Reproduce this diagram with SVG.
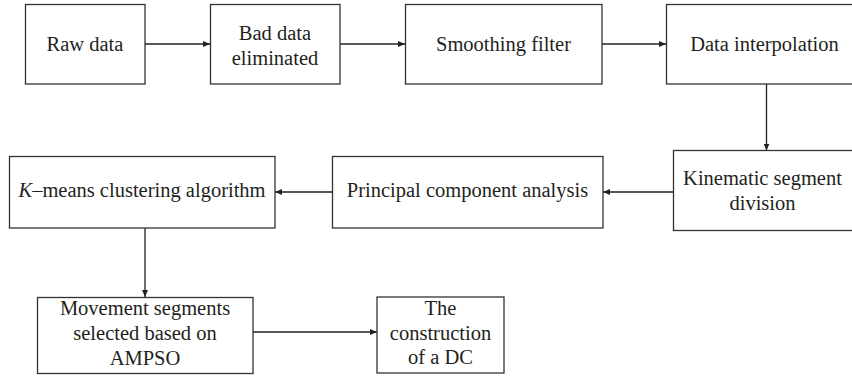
<svg xmlns="http://www.w3.org/2000/svg" width="852" height="379" viewBox="0 0 852 379">
<defs>
<marker id="ah" markerWidth="7" markerHeight="6" refX="7" refY="3" orient="auto" markerUnits="userSpaceOnUse">
<path d="M0,0 L7,3 L0,6 Z" fill="#231f20"/>
</marker>
</defs>
<style>
rect{fill:#fff;stroke:#333;stroke-width:1.3}
text{font-size:20.5px;fill:#231f20;text-anchor:middle}
.c{stroke:#231f20;stroke-width:1.3;fill:none;marker-end:url(#ah)}
</style>
<rect x="0" y="0" width="852" height="379" style="stroke:none;fill:#fff"/>
<g id="connectors">
<line class="c" x1="145" y1="44" x2="210" y2="44"/>
<line class="c" x1="340" y1="44" x2="405" y2="44"/>
<line class="c" x1="602" y1="44" x2="666" y2="44"/>
<line class="c" x1="766.5" y1="84" x2="766.5" y2="150.5"/>
<line class="c" x1="673" y1="192" x2="603" y2="192"/>
<line class="c" x1="332" y1="192" x2="275" y2="192"/>
<line class="c" x1="145" y1="228" x2="145" y2="297"/>
<line class="c" x1="253" y1="332" x2="377" y2="332"/>
</g>
<g font-family="Liberation Serif, serif">
<g id="raw"><rect x="25.5" y="4.5" width="119.5" height="79.5"/><text x="85" y="51">Raw data</text></g>
<g id="bad"><rect x="210.5" y="4.5" width="129.5" height="79.5"/><text x="275" y="39.5">Bad data</text><text x="275" y="64.5">eliminated</text></g>
<g id="smooth"><rect x="405.5" y="4.5" width="196.5" height="79.5"/><text x="503.5" y="51">Smoothing filter</text></g>
<g id="interp"><rect x="666.5" y="4.5" width="200" height="79.5"/><text x="764.5" y="51">Data interpolation</text></g>
<g id="kin"><rect x="673.5" y="150.5" width="200" height="80"/><text x="762.5" y="185">Kinematic segment</text><text x="762.5" y="210">division</text></g>
<g id="pca"><rect x="332.5" y="156.5" width="270.5" height="71.5"/><text x="467.5" y="197">Principal component analysis</text></g>
<g id="kmeans"><rect x="9.5" y="156.5" width="265.5" height="71.5"/><text x="142" y="197"><tspan font-style="italic">K</tspan>–means clustering algorithm</text></g>
<g id="move"><rect x="37.5" y="297.5" width="215.5" height="76"/><text x="145" y="315">Movement segments</text><text x="145" y="340">selected based on</text><text x="145" y="364.5">AMPSO</text></g>
<g id="dc"><rect x="377" y="297" width="127" height="76"/><text x="440.5" y="315">The</text><text x="440.5" y="340">construction</text><text x="440.5" y="364">of a DC</text></g>
</g>
</svg>
